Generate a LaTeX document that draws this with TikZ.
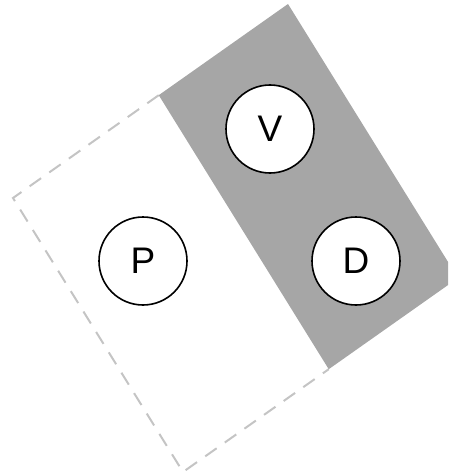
\documentclass[tikz,border=0pt]{standalone}
\usepackage{fontspec}
\setmainfont{Liberation Sans}
\usetikzlibrary{calc}
\definecolor{panelgray}{HTML}{A6A6A6}
\definecolor{dashgray}{HTML}{C4C4C4}
\tikzset{
  state/.style={circle, draw=black, line width=1.6pt, fill=white, minimum size=88pt, inner sep=0pt, font=\fontsize{37}{40}\selectfont},
  outline/.style={draw=dashgray, line width=2pt, dash pattern=on 14pt off 10pt},
  panel/.style={fill=panelgray, draw=none}
}
\begin{document}
\begin{tikzpicture}[x=1pt,y=-1pt]
\useasboundingbox (0,0) rectangle (448,473);
\clip (0,0) rectangle (448,473);
\coordinate (L) at (13,198);
\coordinate (T) at (288,4);
\coordinate (B) at (183,472);
\coordinate (R) at (458,278);
\coordinate (G1) at ($(L)!0.53!(T)$);
\coordinate (G2) at ($(B)!0.53!(R)$);
\draw[outline] (G1) -- (L) -- (B) -- (G2);
\path[panel] (G1) -- (T) -- (R) -- (G2) -- cycle;
\node[state] (P) at (143,261) {P};
\node[state] (V) at (270,129) {V};
\node[state] (D) at (356,261) {D};
\end{tikzpicture}
\end{document}
